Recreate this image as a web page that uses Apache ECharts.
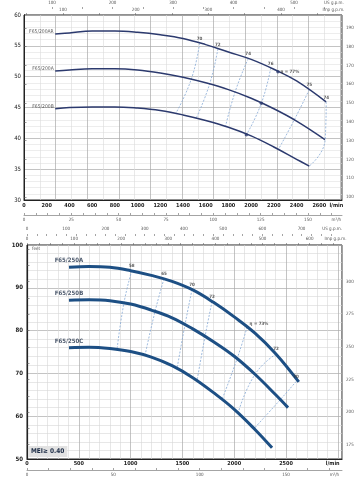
<!DOCTYPE html>
<html><head><meta charset="utf-8">
<script src="https://cdn.jsdelivr.net/npm/echarts@6/dist/echarts.min.js"></script>
<style>html,body{margin:0;padding:0;background:#fff}#c{width:364px;height:480px}</style>
</head><body><div id="c"></div>
<script>
// ================= DATA =================
// --- Top chart: F65/200 (Q in l/min, H in m) ---
const topFlowLabels = [0,200,400,600,800,1000,1200,1400,1600,1800,2000,2200,2400,2600];
const topM3hLabels = [0,25,50,75,100,125,150];
const topImpLabels = [100,200,300,400];
const topUsLabels = [100,200,300,400,500];
const topHeadLabels = [30,35,40,45,50,55,60];
const topFeetLabels = [100,110,120,130,140,150,160,170,180,190];

const topNames = ['F65/200AR','F65/200A','F65/200B'];
const topQ_AR = [275,400,600,800,1000,1200,1400,1600,1800,2000,2200,2400,2660];
const topH_AR = [56.9,57.1,57.4,57.4,57.2,56.8,56.2,55.2,54.0,52.8,51.2,49.3,45.9];
const topQ_A  = [275,400,600,800,1000,1200,1400,1600,1800,2000,2200,2400,2650];
const topH_A  = [50.9,51.1,51.3,51.3,51.1,50.6,49.9,49.0,47.9,46.5,44.8,42.8,39.8];
const topQ_B  = [275,400,600,800,1000,1200,1400,1600,1800,2000,2200,2400,2512];
const topH_B  = [44.8,45.0,45.1,45.1,44.9,44.5,43.8,42.9,41.8,40.4,38.6,36.6,35.5];

const topEffLabels = ['70','72','74','76','75','74'];
const topEffQ = [[1546,1473,1335],[1707,1634,1517],[1974,1862,1774],[2172,2090,1959],[2512,2380,2240],[2661,2652,2512]];
const topEffH = [[55.4,49.6,44.0],[54.5,48.8,43.3],[52.9,47.7,41.9],[51.4,45.7,40.6],[47.9,43.0,38.2],[45.9,39.8,35.5]];
const topBepQ = [2236,2090,1958];
const topBepH = [50.8,45.7,40.6];
const topBepLabel = 'η = 77%';

// --- Bottom chart: F65/250 ---
const botFlowLabels = [0,500,1000,1500,2000,2500];
const botM3hLabels = [0,50,100,150];
const botImpLabels = [0,100,200,300,400,500,600];
const botUsLabels = [0,100,200,300,400,500,600,700];
const botHeadLabels = [50,60,70,80,90,100];
const botFeetLabels = [175,200,225,250,275,300];

const botNames = ['F65/250A','F65/250B','F65/250C'];
const botQ_A = [405,600,800,1000,1200,1400,1600,1800,2000,2200,2400,2623];
const botH_A = [94.8,95.0,94.8,94.0,92.9,91.5,89.5,86.6,83.2,79.4,74.6,68.0];
const botQ_B = [405,600,800,1000,1200,1400,1600,1800,2000,2200,2400,2519];
const botH_B = [87.1,87.2,87.0,86.2,84.8,83.0,80.4,77.4,74.0,69.8,65.0,62.0];
const botQ_C = [405,600,800,1000,1200,1400,1600,1800,2000,2200,2365];
const botH_C = [76.0,76.1,75.8,75.1,73.8,71.8,69.0,65.5,61.6,56.9,52.6];

const botEffLabels = ['58','65','70','72','η = 73%','72','70'];
const botEffQ = [[1011,936,869],[1322,1236,1139],[1593,1525,1448],[1786,1718,1641],[2124,2027,1882],[2403,2201,2037],[2597,2442,2191]];
const botEffH = [[94.0,86.5,75.6],[92.1,84.5,74.2],[89.6,81.4,71.1],[86.8,78.6,68.3],[80.8,73.4,63.9],[74.5,69.8,60.7],[68.1,63.8,57.1]];
const meiText = 'MEI≥ 0.40';

// ================= CHART =================
const F = "'Liberation Sans Narrow','DejaVu Sans Condensed','Liberation Sans',Arial,sans-serif";
const M_TO_FT = 3.28084, LMIN_PER_M3H = 16.6667, LMIN_PER_US = 3.78541, LMIN_PER_IMP = 4.54609;

function range(a,b,s){const r=[];for(let v=a;v<=b+1e-9;v+=s)r.push(+v.toFixed(4));return r;}
function pairs(Q,H){return Q.map((q,i)=>[q,H[i]]);}

const topXMax = 2800, botXMax = 3040;
const topGridW = 318, botGridW = 315;
const HIDDEN = 'rgba(0,0,0,0)';

// label carrier: invisible scatter point with a text label
function labelSeries(pt,text,xi,yi,labelOpt){
  return {type:'scatter',xAxisIndex:xi,yAxisIndex:yi,symbol:'circle',symbolSize:1,
    itemStyle:{color:HIDDEN},z:8,silent:true,
    label:Object.assign({show:true,formatter:text,fontFamily:F,color:'#222'},labelOpt),
    data:[pt]};
}
function curveSeries(Q,H,xi,yi,color,width){
  return {type:'line', xAxisIndex:xi, yAxisIndex:yi, data:pairs(Q,H), smooth:0.4, showSymbol:false, symbol:'none',
    lineStyle:{color:color,width:width}, z:5, silent:true};
}
function effSeries(Q,H,xi,yi){
  return {type:'line', xAxisIndex:xi, yAxisIndex:yi, data:pairs(Q,H), smooth:0.5, showSymbol:false, symbol:'none',
    lineStyle:{color:'#86a9d6',width:0.8,type:[2,1.5]}, z:3, silent:true};
}

const series = [];
const topCol='#2c3a6e';
[[topQ_AR,topH_AR],[topQ_A,topH_A],[topQ_B,topH_B]].forEach((c,i)=>{
  series.push(curveSeries(c[0],c[1],0,0,topCol,1.5));
  series.push(labelSeries([c[0][0],c[1][0]],topNames[i],0,0,{position:'left',distance:1,offset:[0,-2.5],fontSize:5,color:'#333'}));
});
topEffLabels.forEach((l,i)=>{
  series.push(effSeries(topEffQ[i],topEffH[i],0,0));
  series.push(labelSeries([topEffQ[i][0],topEffH[i][0]],l,0,0,{position:'top',distance:1.5,fontSize:4.5,fontWeight:'bold',color:'#333'}));
});
series.push({type:'scatter',xAxisIndex:0,yAxisIndex:0,symbolSize:3.5,itemStyle:{color:topCol},z:6,silent:true,
  data:pairs(topBepQ,topBepH)});
series.push(labelSeries([topBepQ[0],topBepH[0]],topBepLabel,0,0,{position:'right',distance:2,fontSize:4.5,fontWeight:'bold',color:'#333'}));

const botCol='#1d4f84';
[[botQ_A,botH_A],[botQ_B,botH_B],[botQ_C,botH_C]].forEach((c,i)=>{
  series.push(curveSeries(c[0],c[1],5,2,botCol,3));
  series.push(labelSeries([c[0][0],c[1][0]],botNames[i],5,2,{position:'top',distance:3,fontSize:6,fontWeight:'bold',color:'#1a2a44'}));
});
botEffLabels.forEach((l,i)=>{
  series.push(effSeries(botEffQ[i],botEffH[i],5,2));
  series.push(labelSeries([botEffQ[i][0],botEffH[i][0]],l,5,2,
    i===4?{position:'right',distance:2,offset:[0,-3],fontSize:4.5,fontWeight:'bold',color:'#333'}
         :{position:'top',distance:2,fontSize:4.5,fontWeight:'bold',color:'#333'}));
});

const thinLab = {fontFamily:F,fontSize:4.5,color:'#555'};
const xAxis = [
  // 0 top l/min
  {gridIndex:0,type:'value',min:0,max:topXMax,position:'bottom',
   axisLine:{show:true,lineStyle:{color:'#222',width:1}},axisTick:{show:false},splitLine:{show:false},
   axisLabel:{customValues:topFlowLabels.concat([2750]),formatter:v=>v===2750?'l/min':String(v),fontFamily:F,fontSize:5.5,color:'#222',fontWeight:'bold',margin:3}},
  // 1 top m3/h
  {gridIndex:0,type:'value',min:0,max:topXMax/LMIN_PER_M3H,position:'bottom',offset:15,
   axisLine:{show:true,lineStyle:{color:'#666',width:0.6}},
   axisTick:{show:true,inside:true,length:2,customValues:range(0,165,6.25),lineStyle:{color:'#666',width:0.6}},
   splitLine:{show:false},
   axisLabel:Object.assign({customValues:topM3hLabels.concat([165]),formatter:v=>v===165?'m³/h':String(v),margin:2},thinLab)},
  // 2 top Imp
  {gridIndex:0,type:'value',min:46.4,max:483.8,position:'top',offset:0,
   axisLine:{show:false},axisTick:{show:true,length:2,customValues:range(50,450,50),lineStyle:{color:'#666',width:0.6}},splitLine:{show:false},
   axisLabel:Object.assign({customValues:topImpLabels.concat([472]),formatter:v=>v===472?'Imp g.p.m.':String(v),margin:3},thinLab)},
  // 3 top US
  {gridIndex:0,type:'value',min:53.7,max:579.3,position:'top',offset:8,
   axisLine:{show:false},axisTick:{show:true,inside:true,length:2,customValues:range(100,550,50),lineStyle:{color:'#666',width:0.6}},splitLine:{show:false},
   axisLabel:Object.assign({customValues:topUsLabels.concat([566]),formatter:v=>v===566?'US g.p.m.':String(v),margin:2},thinLab)},
  // 4 top vertical grid
  {gridIndex:0,type:'value',min:0,max:topGridW/15.8,interval:2,position:'bottom',
   axisLine:{show:false},axisTick:{show:false},axisLabel:{show:false},
   splitLine:{show:true,lineStyle:{color:'#a9a9a9',width:0.7}},
   minorTick:{show:false,splitNumber:2},minorSplitLine:{show:true,lineStyle:{color:'#dadada',width:0.6}}},
  // 5 bottom l/min
  {gridIndex:1,type:'value',min:0,max:botXMax,position:'bottom',
   axisLine:{show:true,lineStyle:{color:'#222',width:1.2}},axisTick:{show:false},splitLine:{show:false},
   axisLabel:{customValues:botFlowLabels.concat([2950]),formatter:v=>v===2950?'l/min':String(v),fontFamily:F,fontSize:5.5,color:'#222',fontWeight:'bold',margin:2}},
  // 6 bottom m3/h
  {gridIndex:1,type:'value',min:0,max:botXMax/LMIN_PER_M3H,position:'bottom',offset:11,
   axisLine:{show:true,lineStyle:{color:'#666',width:0.6}},
   axisTick:{show:true,inside:true,length:2,customValues:range(0,175,12.5),lineStyle:{color:'#666',width:0.6}},splitLine:{show:false},
   axisLabel:Object.assign({customValues:botM3hLabels.concat([178]),formatter:v=>v===178?'m³/h':String(v),margin:2},thinLab)},
  // 7 bottom Imp (top)
  {gridIndex:1,type:'value',min:0,max:botXMax/LMIN_PER_IMP,position:'top',offset:0,
   axisLine:{show:false},axisTick:{show:true,length:2,customValues:range(0,650,25),lineStyle:{color:'#666',width:0.6}},splitLine:{show:false},
   axisLabel:Object.assign({customValues:botImpLabels.concat([655]),formatter:v=>v===655?'Imp g.p.m.':String(v),margin:3.5},thinLab)},
  // 8 bottom US (top)
  {gridIndex:1,type:'value',min:0,max:botXMax/LMIN_PER_US,position:'top',offset:11,
   axisLine:{show:false},axisTick:{show:true,inside:true,length:2,customValues:range(0,775,25),lineStyle:{color:'#666',width:0.6}},splitLine:{show:false},
   axisLabel:Object.assign({customValues:botUsLabels.concat([778]),formatter:v=>v===778?'US g.p.m.':String(v),margin:2.5},thinLab)},
  // 9 bottom vertical grid
  {gridIndex:1,type:'value',min:0,max:botXMax,interval:500,position:'bottom',
   axisLine:{show:false},axisTick:{show:false},axisLabel:{show:false},
   splitLine:{show:true,lineStyle:{color:'#ababab',width:0.7}},
   minorTick:{show:false,splitNumber:5},minorSplitLine:{show:true,lineStyle:{color:'#d6d6d6',width:0.6}}}
];
const yAxis = [
  {gridIndex:0,type:'value',min:30,max:60,interval:5,position:'left',
   axisLine:{show:true,lineStyle:{color:'#222',width:1}},axisTick:{show:false},
   axisLabel:{customValues:topHeadLabels,fontFamily:F,fontSize:6,color:'#222',margin:3},
   splitLine:{show:true,lineStyle:{color:'#a9a9a9',width:0.7}},
   minorTick:{show:false,splitNumber:5},minorSplitLine:{show:true,lineStyle:{color:'#e0e0e0',width:0.6}}},
  {gridIndex:0,type:'value',min:30*M_TO_FT,max:60*M_TO_FT,position:'right',
   axisLine:{show:true,lineStyle:{color:'#222',width:1}},
   axisTick:{show:true,length:2.5,customValues:topFeetLabels,lineStyle:{color:'#555',width:0.6}},
   axisLabel:Object.assign({customValues:topFeetLabels,margin:4},thinLab),splitLine:{show:false}},
  {gridIndex:1,type:'value',min:50,max:100,interval:10,position:'left',
   axisLine:{show:true,lineStyle:{color:'#222',width:1.2}},axisTick:{show:false},
   axisLabel:{customValues:botHeadLabels,fontFamily:F,fontSize:6,color:'#222',margin:4,fontWeight:'bold'},
   splitLine:{show:true,lineStyle:{color:'#ababab',width:0.7}},
   minorTick:{show:false,splitNumber:5},minorSplitLine:{show:true,lineStyle:{color:'#d6d6d6',width:0.6}}},
  {gridIndex:1,type:'value',min:50*M_TO_FT,max:100*M_TO_FT,position:'right',
   name:'feet',nameLocation:'end',nameGap:0,nameTextStyle:{fontFamily:F,fontSize:4.5,color:'#555',align:'left',verticalAlign:'top',padding:[1,0,0,5]},
   axisLine:{show:true,lineStyle:{color:'#222',width:1}},
   axisTick:{show:true,length:2.5,customValues:range(175,325,12.5),lineStyle:{color:'#555',width:0.6}},
   axisLabel:Object.assign({customValues:botFeetLabels,margin:4},thinLab),splitLine:{show:false}}
];

const chart = echarts.init(document.getElementById('c'),null,{renderer:'canvas'});
chart.setOption({
  animation:false,
  backgroundColor:'#fff',
  title:{text:meiText,left:28,top:446,padding:[2,3],backgroundColor:'#e2e2e2',
    textStyle:{fontFamily:F,fontSize:6.5,fontWeight:'bold',color:'#1a2a44'}},
  grid:[
    {left:24,top:15,width:topGridW,height:185,show:true,borderColor:'#222',borderWidth:1,backgroundColor:'#fff'},
    {left:27,top:245,width:botGridW,height:214,show:true,borderColor:'#222',borderWidth:1,backgroundColor:'#fff'}
  ],
  xAxis:xAxis, yAxis:yAxis, series:series
});
</script></body></html>
